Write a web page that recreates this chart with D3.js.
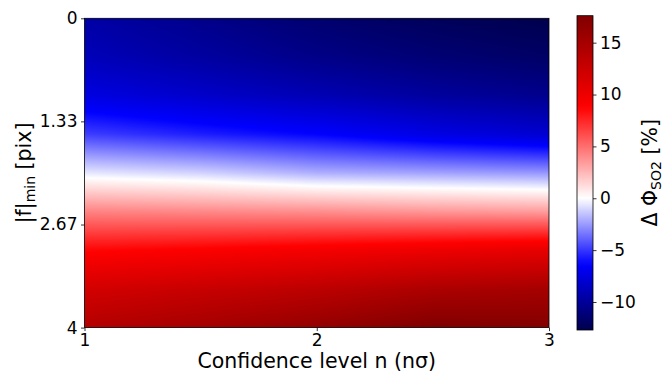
<!DOCTYPE html>
<html>
<head>
<meta charset="utf-8">
<script src="https://cdn.jsdelivr.net/npm/d3@7/dist/d3.min.js"></script>
<style>
  body { margin: 0; background: #fff; }
  text { font-family: "DejaVu Sans", sans-serif; fill: #000; }
</style>
</head>
<body>
<div id="chart"></div>
<script>
// grid of the map: confidence level n (columns) and |f|min in pix (rows, top to bottom)
var nLevels = [1, 1.5, 2, 2.5, 3];
var fMin = [0, 0.5, 1, 1.5, 2, 2.5, 3, 3.5, 4];

// delta Phi SO2 [%], one list per confidence level, read top to bottom
var dPhiN10 = [-9.5, -8.8, -7.4, -4.8, -0.6, 4.3, 8.6, 11.8, 14.0];
var dPhiN15 = [-10.5, -9.7, -8.2, -5.6, -1.1, 4.1, 9.0, 12.6, 15.0];
var dPhiN20 = [-11.5, -10.6, -9.0, -6.3, -2.0, 3.9, 9.5, 13.4, 16.2];
var dPhiN25 = [-12.2, -11.3, -9.8, -7.3, -2.3, 3.6, 10.0, 14.5, 17.6];
var dPhiN30 = [-12.7, -11.8, -10.4, -8.0, -2.6, 3.4, 10.5, 15.0, 17.3];
var columns = [dPhiN10, dPhiN15, dPhiN20, dPhiN25, dPhiN30];

var xTicks = [1, 2, 3];
var yTicks = [0, 1.333, 2.667, 4];
var yTickLabels = ['0', '1.33', '2.67', '4'];
var cbTicks = [-10, -5, 0, 5, 10, 15];

// matplotlib 'seismic'
var seismic = ['#00004d', '#0000ff', '#ffffff', '#ff0000', '#800000'];

var width = 671, height = 374;
var plot = {left: 84.5, right: 549, top: 18.3, bottom: 327.6};
var cbar = {left: 577, right: 593, top: 15.7, bottom: 330};

var svg = d3.select('#chart').append('svg')
    .attr('width', width)
    .attr('height', height);

var x = d3.scaleLinear().domain([1, 3]).range([plot.left, plot.right]);
var y = d3.scaleLinear().domain([0, 4]).range([plot.top, plot.bottom]);

var allVals = columns.flat();
var vmin = d3.min(allVals), vmax = d3.max(allVals);

// diverging norm centred on zero, then the colour map
var norm = d3.scaleLinear().domain([vmin, 0, vmax]).range([0, 0.5, 1]).clamp(true);
var cmap = d3.scaleLinear().domain([0, 0.25, 0.5, 0.75, 1]).range(seismic);
var color = v => cmap(norm(v));

// bilinear lookup in the grid
function lookup(arr, v) {
  var i = d3.bisectRight(arr, v) - 1;
  i = Math.max(0, Math.min(arr.length - 2, i));
  var t = (v - arr[i]) / (arr[i + 1] - arr[i]);
  return [i, Math.max(0, Math.min(1, t))];
}
function valueAt(n, f) {
  var cx = lookup(nLevels, n), cy = lookup(fMin, f);
  var a = columns[cx[0]], b = columns[cx[0] + 1];
  var top = a[cy[0]] * (1 - cx[1]) + b[cy[0]] * cx[1];
  var bot = a[cy[0] + 1] * (1 - cx[1]) + b[cy[0] + 1] * cx[1];
  return top * (1 - cy[1]) + bot * cy[1];
}

// heatmap raster
var W = Math.round(plot.right - plot.left), H = Math.round(plot.bottom - plot.top);
var canvas = document.createElement('canvas');
canvas.width = W; canvas.height = H;
var ctx = canvas.getContext('2d');
var img = ctx.createImageData(W, H);
for (var j = 0; j < H; j++) {
  var f = y.invert(plot.top + (j + 0.5) * (plot.bottom - plot.top) / H);
  for (var i = 0; i < W; i++) {
    var n = x.invert(plot.left + (i + 0.5) * (plot.right - plot.left) / W);
    var c = d3.rgb(color(valueAt(n, f)));
    var k = (j * W + i) * 4;
    img.data[k] = c.r; img.data[k + 1] = c.g; img.data[k + 2] = c.b; img.data[k + 3] = 255;
  }
}
ctx.putImageData(img, 0, 0);

svg.append('image')
    .attr('x', plot.left)
    .attr('y', plot.top)
    .attr('width', plot.right - plot.left)
    .attr('height', plot.bottom - plot.top)
    .attr('preserveAspectRatio', 'none')
    .attr('href', canvas.toDataURL());

// axes
var xAxis = d3.axisBottom(x).tickValues(xTicks).tickFormat(d3.format('d'))
    .tickSize(3.5).tickPadding(2.5);
var yAxis = d3.axisLeft(y).tickValues(yTicks).tickFormat((d, i) => yTickLabels[i])
    .tickSize(3.5).tickPadding(3.5);

var gX = svg.append('g')
    .attr('transform', 'translate(0,' + plot.bottom + ')')
    .call(xAxis);
var gY = svg.append('g')
    .attr('transform', 'translate(' + plot.left + ',0)')
    .call(yAxis);
[gX, gY].forEach(g => {
  g.select('.domain').remove();
  g.selectAll('.tick line').attr('stroke', '#000').attr('stroke-width', 0.8);
  g.selectAll('.tick text').style('font-size', '17px').attr('fill', '#000');
});

svg.append('rect')
    .attr('x', plot.left).attr('y', plot.top)
    .attr('width', plot.right - plot.left).attr('height', plot.bottom - plot.top)
    .attr('fill', 'none').attr('stroke', '#000').attr('stroke-width', 0.8);

// axis labels
svg.append('text')
    .attr('x', (plot.left + plot.right) / 2)
    .attr('y', 367.5)
    .attr('text-anchor', 'middle')
    .style('font-size', '20.5px')
    .text('Confidence level n (nσ)');

var yLab = svg.append('text')
    .attr('transform', 'translate(30.5,' + (plot.top + plot.bottom) / 2 + ') rotate(-90)')
    .attr('text-anchor', 'middle')
    .style('font-size', '20.5px');
yLab.append('tspan').text('|f|');
yLab.append('tspan').attr('dy', 4).style('font-size', '14px').text('min');
yLab.append('tspan').attr('dy', -4).text(' [pix]');

// colour bar
var cy = d3.scaleLinear().domain([vmin, vmax]).range([cbar.bottom, cbar.top]);
var grad = svg.append('defs').append('linearGradient')
    .attr('id', 'cbgrad')
    .attr('x1', 0).attr('y1', 1).attr('x2', 0).attr('y2', 0);
grad.selectAll('stop')
    .data(d3.range(0, 1.0001, 0.02))
    .enter().append('stop')
    .attr('offset', d => d)
    .attr('stop-color', d => color(vmin + d * (vmax - vmin)));

svg.append('rect')
    .attr('x', cbar.left).attr('y', cbar.top)
    .attr('width', cbar.right - cbar.left).attr('height', cbar.bottom - cbar.top)
    .attr('fill', 'url(#cbgrad)')
    .attr('stroke', '#000').attr('stroke-width', 0.8);

var cAxis = d3.axisRight(cy).tickValues(cbTicks).tickFormat(d3.format('d'))
    .tickSize(3.5).tickPadding(3.5);
var gC = svg.append('g')
    .attr('transform', 'translate(' + cbar.right + ',0)')
    .call(cAxis);
gC.select('.domain').remove();
gC.selectAll('.tick line').attr('stroke', '#000').attr('stroke-width', 0.8);
gC.selectAll('.tick text').style('font-size', '17px').attr('fill', '#000');

var cLab = svg.append('text')
    .attr('transform', 'translate(657,' + (cbar.top + cbar.bottom) / 2 + ') rotate(-90)')
    .attr('text-anchor', 'middle')
    .style('font-size', '20.5px');
cLab.append('tspan').text('Δ Φ');
cLab.append('tspan').attr('dy', 4).style('font-size', '14px').text('SO2');
cLab.append('tspan').attr('dy', -4).text(' [%]');
</script>
</body>
</html>
